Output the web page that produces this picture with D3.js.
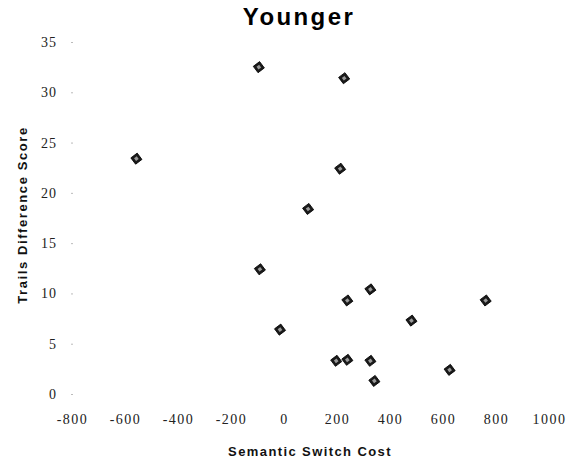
<!DOCTYPE html>
<html>
<head>
<meta charset="utf-8">
<script src="https://cdn.jsdelivr.net/npm/d3@7"></script>
<style>
  html, body { margin: 0; padding: 0; background: #fff; }
  svg { display: block; }
</style>
</head>
<body>
<svg id="chart" width="569" height="466"></svg>
<script>
// ---- data ----
const switchCost = [-95, 227, -557, 212, 91, -91, 326, 239, 761, 481, -15, 197, 239, 326, 341, 625];
const trailsDiff = [32.5, 31.4, 23.4, 22.4, 18.4, 12.4, 10.4, 9.3, 9.3, 7.3, 6.4, 3.3, 3.4, 3.3, 1.3, 2.4];
const xTicks = [-800, -600, -400, -200, 0, 200, 400, 600, 800, 1000];
const yTicks = [0, 5, 10, 15, 20, 25, 30, 35];
const titleText = "Younger";
const xTitle = "Semantic Switch Cost";
const yTitle = "Trails Difference Score";

const svg = d3.select("#chart");
const x = d3.scaleLinear().domain([-800, 1000]).range([72, 549]);
const y = d3.scaleLinear().domain([0, 35]).range([394, 42]);

// title
svg.append("text")
  .attr("x", 299).attr("y", 25)
  .attr("text-anchor", "middle")
  .style("font-family", "Liberation Sans, Arial, sans-serif")
  .style("font-weight", "bold")
  .style("font-size", "24px")
  .style("letter-spacing", "2.4px")
  .attr("fill", "#000")
  .text(titleText);

// y axis
const yAxis = svg.append("g")
  .attr("transform", "translate(73,0)")
  .call(d3.axisLeft(y).tickValues(yTicks).tickSize(2).tickPadding(14).tickFormat(d => String(d)));
yAxis.select(".domain").remove();
yAxis.selectAll(".tick line").attr("stroke", "#bbb");
yAxis.selectAll(".tick text")
  .style("font-family", "Liberation Serif, Times New Roman, serif")
  .style("font-size", "14px")
  .style("letter-spacing", "1px")
  .attr("fill", "#222");

// x axis
const xAxis = svg.append("g")
  .attr("transform", "translate(0,394)")
  .call(d3.axisBottom(x).tickValues(xTicks).tickSize(0).tickPadding(20).tickFormat(d => String(d)));
xAxis.select(".domain").remove();
xAxis.selectAll(".tick text")
  .attr("y", 30).attr("dy", 0)
  .style("font-family", "Liberation Serif, Times New Roman, serif")
  .style("font-size", "14px")
  .style("letter-spacing", "1.5px")
  .attr("fill", "#222");

// axis titles
svg.append("text")
  .attr("x", 310).attr("y", 456)
  .attr("text-anchor", "middle")
  .style("font-family", "Liberation Sans, Arial, sans-serif")
  .style("font-weight", "bold")
  .style("font-size", "13px")
  .style("letter-spacing", "1.4px")
  .attr("fill", "#111")
  .text(xTitle);

svg.append("text")
  .attr("transform", "translate(27,215) rotate(-90)")
  .attr("text-anchor", "middle")
  .style("font-family", "Liberation Sans, Arial, sans-serif")
  .style("font-weight", "bold")
  .style("font-size", "13px")
  .style("letter-spacing", "1.6px")
  .attr("fill", "#111")
  .text(yTitle);

// points
const pts = switchCost.map((v, i) => ({ x: v, y: trailsDiff[i] }));
const outer = d3.symbol().type(d3.symbolDiamond2).size(80);
const inner = d3.symbol().type(d3.symbolDiamond2).size(14);
const g = svg.append("g");
const pg = g.selectAll("g.pt").data(pts).join("g")
  .attr("class", "pt")
  .attr("transform", d => `translate(${x(d.x)},${y(d.y)}) rotate(8)`);
pg.append("path").attr("d", outer).attr("fill", "#1a1a1a").attr("stroke", "#000").attr("stroke-width", 0.8);
pg.append("path").attr("d", inner).attr("fill", "#9a9a9a");
</script>
</body>
</html>
